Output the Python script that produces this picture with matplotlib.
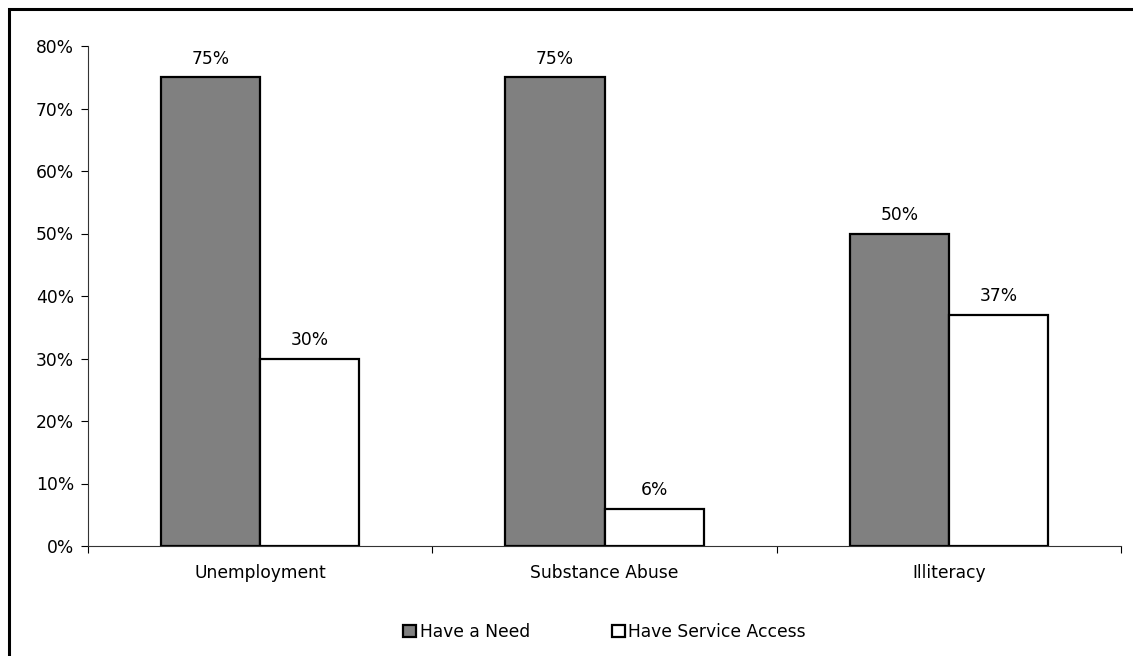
import matplotlib
matplotlib.use("Agg")
import matplotlib.pyplot as plt
import matplotlib.patches as mpatches
import numpy as np

categories = ["Unemployment", "Substance Abuse", "Illiteracy"]
have_need = [75, 75, 50]
have_access = [30, 6, 37]
series_names = ["Have a Need", "Have Service Access"]
y_ticks = [0, 10, 20, 30, 40, 50, 60, 70, 80]

plt.rcParams["font.family"] = ["DejaVu Sans"]
FS = 12.3

fig = plt.figure(figsize=(11.33, 6.56), dpi=100)
ax = fig.add_axes([88 / 1133, 1 - 546 / 656, (1121 - 88) / 1133, 500 / 656])

x = np.arange(len(categories))
w = 99 / 344
b1 = ax.bar(x - w / 2, have_need, w, color="#808080", edgecolor="black", linewidth=1.6, label=series_names[0])
b2 = ax.bar(x + w / 2, have_access, w, color="white", edgecolor="black", linewidth=1.6, label=series_names[1])

for bars, vals in ((b1, have_need), (b2, have_access)):
    for rect, v in zip(bars, vals):
        ax.annotate(f"{v}%", (rect.get_x() + rect.get_width() / 2, v),
                    xytext=(0, 7), textcoords="offset points",
                    ha="center", va="bottom", fontsize=FS)

ax.set_xlim(-0.5, len(categories) - 0.5)
ax.set_ylim(0, 80)
ax.set_yticks(y_ticks)
ax.set_yticklabels([f"{t}%" for t in y_ticks], fontsize=FS)
ax.set_xticks(x)
ax.set_xticklabels(categories, fontsize=FS)
ax.tick_params(axis="x", which="major", length=0, pad=13)
ax.set_xticks(np.arange(-0.5, len(categories)), minor=True)
ax.tick_params(axis="x", which="minor", length=5, direction="out", width=0.8)
ax.tick_params(axis="y", length=5, direction="out", width=0.8, pad=5)

for side in ("top", "right"):
    ax.spines[side].set_visible(False)
for side in ("left", "bottom"):
    ax.spines[side].set_linewidth(0.8)
    ax.spines[side].set_color("#333333")

ax.legend(loc="center", bbox_to_anchor=(0.5, -0.172), ncol=2, frameon=False,
          fontsize=FS, handlelength=0.75, handleheight=0.75, handletextpad=0.2,
          columnspacing=4.8)

fig.patches.append(mpatches.Rectangle((9 / 1133, -0.1), 1.2, 1 - 9 / 656 + 0.1,
                                      transform=fig.transFigure, fill=False,
                                      edgecolor="black", linewidth=2.2))

fig.savefig("out.png", dpi=100)
